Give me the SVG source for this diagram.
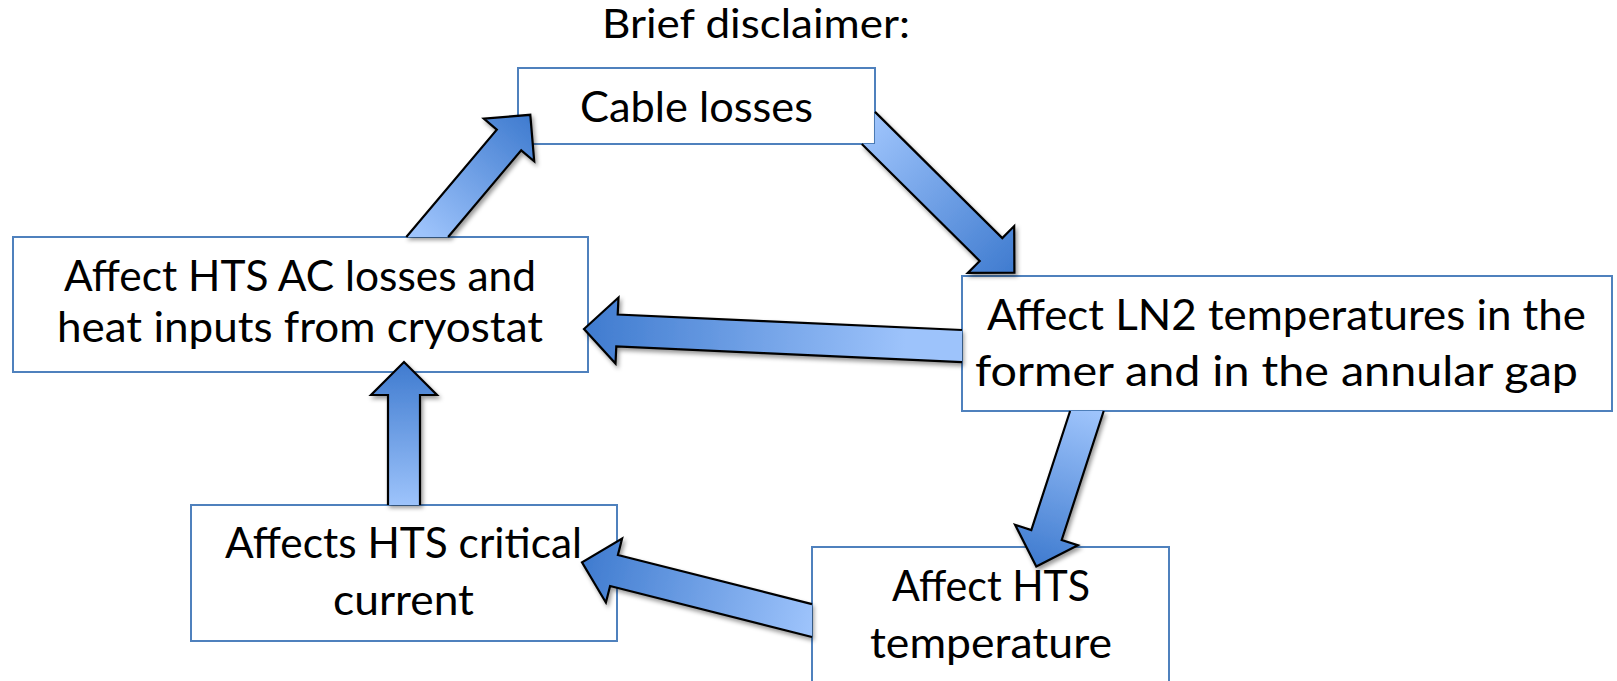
<svg xmlns="http://www.w3.org/2000/svg" width="1617" height="681" viewBox="0 0 1617 681">
<style>
.box{fill:#fff;stroke:#4f81bd;stroke-width:2}
.t{font-family:Lato,"Liberation Sans",sans-serif;font-size:43px;fill:#000;text-anchor:middle}
.ao{fill:none;stroke:#000;stroke-width:2.2;stroke-linejoin:miter;stroke-miterlimit:10}
.sh{filter:url(#shadow)}
</style>
<defs>
<filter id="shadow" x="-20%" y="-20%" width="140%" height="140%">
<feDropShadow dx="2" dy="3" stdDeviation="2" flood-color="#000" flood-opacity="0.4"/>
</filter>
<linearGradient id="gA" gradientUnits="userSpaceOnUse" x1="427" y1="237" x2="530" y2="115"><stop offset="0" stop-color="#9dc3fb"/><stop offset="1" stop-color="#3f7bcf"/></linearGradient>
<linearGradient id="gB" gradientUnits="userSpaceOnUse" x1="868" y1="128" x2="1014" y2="273"><stop offset="0" stop-color="#9dc3fb"/><stop offset="1" stop-color="#3f7bcf"/></linearGradient>
<linearGradient id="gC" gradientUnits="userSpaceOnUse" x1="962" y1="346" x2="584" y2="329"><stop offset="0" stop-color="#9dc3fb"/><stop offset="0.15" stop-color="#9dc3fb"/><stop offset="1" stop-color="#3f7bcf"/></linearGradient>
<linearGradient id="gD" gradientUnits="userSpaceOnUse" x1="1087" y1="411" x2="1036" y2="566"><stop offset="0" stop-color="#9dc3fb"/><stop offset="1" stop-color="#3f7bcf"/></linearGradient>
<linearGradient id="gE" gradientUnits="userSpaceOnUse" x1="812" y1="620" x2="582" y2="562"><stop offset="0" stop-color="#9dc3fb"/><stop offset="1" stop-color="#3f7bcf"/></linearGradient>
<linearGradient id="gF" gradientUnits="userSpaceOnUse" x1="404" y1="505" x2="404" y2="362"><stop offset="0" stop-color="#9dc3fb"/><stop offset="1" stop-color="#3f7bcf"/></linearGradient>
</defs>

<text class="t" x="756" y="38" style="font-size:40px" textLength="308" lengthAdjust="spacingAndGlyphs">Brief disclaimer:</text>

<g id="node-cable-losses">
<rect class="box" x="518" y="68" width="357" height="76"/>
<text class="t" x="696.5" y="122" textLength="233" lengthAdjust="spacingAndGlyphs">Cable losses</text>
</g>

<g id="node-hts-ac-losses">
<rect class="box" x="13" y="237" width="575" height="135"/>
<text class="t" x="300" y="291" textLength="472" lengthAdjust="spacingAndGlyphs">Affect HTS AC losses and</text>
<text class="t" x="300" y="342" textLength="486" lengthAdjust="spacingAndGlyphs">heat inputs from cryostat</text>
</g>

<g id="node-ln2-temperatures">
<rect class="box" x="962" y="276" width="650" height="135"/>
<text class="t" x="1286.5" y="330" textLength="599" lengthAdjust="spacingAndGlyphs">Affect LN2 temperatures in the</text>
<text class="t" x="1276.5" y="386" textLength="603" lengthAdjust="spacingAndGlyphs">former and in the annular gap</text>
</g>

<g id="node-critical-current">
<rect class="box" x="191" y="505" width="426" height="136"/>
<text class="t" x="403.5" y="558" textLength="357" lengthAdjust="spacingAndGlyphs">Affects HTS critical</text>
<text class="t" x="403.5" y="615" textLength="141" lengthAdjust="spacingAndGlyphs">current</text>
</g>

<g id="node-hts-temperature">
<rect class="box" x="812" y="547" width="357" height="145"/>
<text class="t" x="991" y="601" textLength="198" lengthAdjust="spacingAndGlyphs">Affect HTS</text>
<text class="t" x="991" y="658" textLength="242" lengthAdjust="spacingAndGlyphs">temperature</text>
</g>

<g id="connectors">
<g class="sh">
<path fill="url(#gA)" d="M406.3,237 L496.8,129.7 L483.8,118.7 L530.3,114.8 L534.2,161.3 L521.2,150.3 L448.1,237 Z"/>
<path class="ao" d="M406.3,237 L496.8,129.7 L483.8,118.7 L530.3,114.8 L534.2,161.3 L521.2,150.3 L448.1,237"/>
</g>
<g class="sh">
<path fill="url(#gB)" d="M875,111.9 L1002.3,238.1 L1014.2,226.1 L1014.4,272.7 L967.8,272.9 L979.7,260.9 L861.8,144 L875,144 Z"/>
<path class="ao" d="M875,111.9 L1002.3,238.1 L1014.2,226.1 L1014.4,272.7 L967.8,272.9 L979.7,260.9 L861.8,144"/>
</g>
<g class="sh">
<path fill="url(#gC)" d="M962,330 L617.7,314.5 L618.5,297.5 L584,329 L615.5,363.5 L616.3,346.5 L962,362.1 Z"/>
<path class="ao" d="M962,330 L617.7,314.5 L618.5,297.5 L584,329 L615.5,363.5 L616.3,346.5 L962,362.1"/>
</g>
<g class="sh">
<path fill="url(#gD)" d="M1070.1,411 L1031.3,530 L1015.1,524.8 L1036.3,566.4 L1077.9,545.2 L1061.7,540 L1103.7,411 Z"/>
<path class="ao" d="M1070.1,411 L1031.3,530 L1015.1,524.8 L1036.3,566.4 L1077.9,545.2 L1061.7,540 L1103.7,411"/>
</g>
<g class="sh">
<path fill="url(#gE)" d="M812,604.1 L617.9,555 L622.1,538.5 L582,562.4 L605.9,602.5 L610.1,586 L812,637 Z"/>
<path class="ao" d="M812,604.1 L617.9,555 L622.1,538.5 L582,562.4 L605.9,602.5 L610.1,586 L812,637"/>
</g>
<g class="sh">
<path fill="url(#gF)" d="M388,505 L388,395 L371,395 L404,362 L437,395 L420,395 L420,505 Z"/>
<path class="ao" d="M388,505 L388,395 L371,395 L404,362 L437,395 L420,395 L420,505"/>
</g>
</g>
</svg>
